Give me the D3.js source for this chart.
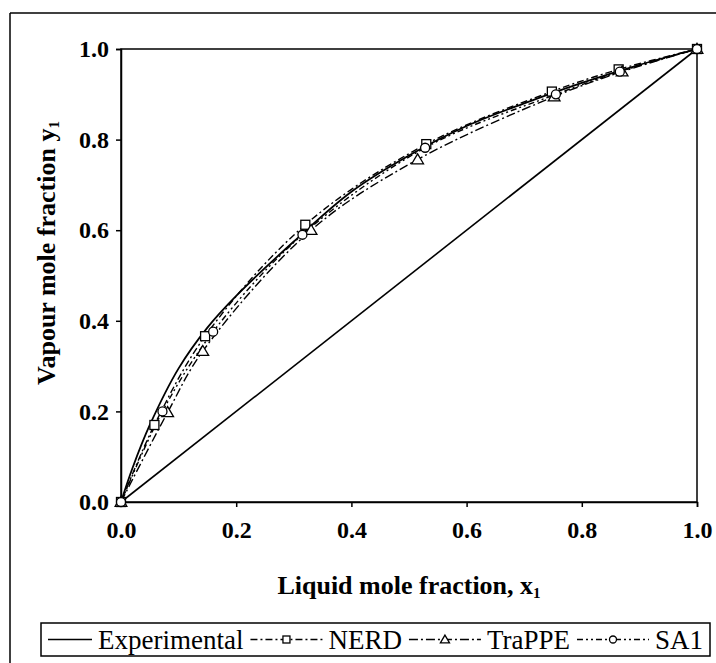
<!DOCTYPE html>
<html>
<head>
<meta charset="utf-8">
<script src="https://cdn.jsdelivr.net/npm/d3@7"></script>
<style>
  html, body { margin: 0; padding: 0; background: #fff; }
  svg { display: block; }
  text { font-family: "Liberation Serif", "Times New Roman", serif; fill: #000; }
</style>
</head>
<body>
<svg id="chart" width="716" height="663"></svg>
<script>
// Vapour-liquid equilibrium: liquid mole fraction x1 vs vapour mole fraction y1
const tickValues = [0.0, 0.2, 0.4, 0.6, 0.8, 1.0];

// Experimental curve
const expX = [0.0, 0.02, 0.05, 0.1, 0.15, 0.2, 0.3, 0.4, 0.5, 0.6, 0.7, 0.8, 0.9, 1.0];
const expY = [0.0, 0.075, 0.17, 0.295, 0.385, 0.455, 0.575, 0.685, 0.765, 0.83, 0.88, 0.925, 0.965, 1.0];

// Simulation results
const nerdX = [0.0, 0.058, 0.146, 0.32, 0.53, 0.748, 0.864, 1.0];
const nerdY = [0.0, 0.17, 0.366, 0.612, 0.79, 0.906, 0.955, 1.0];

const trappeX = [0.0, 0.081, 0.142, 0.33, 0.515, 0.752, 0.87, 1.0];
const trappeY = [0.0, 0.198, 0.333, 0.60, 0.756, 0.895, 0.95, 1.0];

const sa1X = [0.0, 0.072, 0.16, 0.315, 0.528, 0.755, 0.866, 1.0];
const sa1Y = [0.0, 0.2, 0.376, 0.59, 0.782, 0.90, 0.95, 1.0];

// x = y reference
const diagX = [0.0, 1.0];
const diagY = [0.0, 1.0];

const svg = d3.select("#chart");
const W = 716, H = 663;
const plot = { left: 121, right: 697, top: 49, bottom: 502 };

const x = d3.scaleLinear().domain([0, 1]).range([plot.left, plot.right]);
const y = d3.scaleLinear().domain([0, 1]).range([plot.bottom, plot.top]);

// outer frame (left and top edges)
svg.append("line").attr("x1", 10).attr("x2", 10).attr("y1", 13).attr("y2", H)
  .attr("stroke", "#000").attr("stroke-width", 1.5);
svg.append("line").attr("x1", 10).attr("x2", W).attr("y1", 13).attr("y2", 13)
  .attr("stroke", "#000").attr("stroke-width", 1.5);

// plot area border
svg.append("rect")
  .attr("x", plot.left).attr("y", plot.top)
  .attr("width", plot.right - plot.left).attr("height", plot.bottom - plot.top)
  .attr("fill", "none").attr("stroke", "#000").attr("stroke-width", 1.5);

// axes
const xAxis = svg.append("g")
  .attr("transform", `translate(0,${plot.bottom})`)
  .call(d3.axisBottom(x).tickValues(tickValues).tickFormat(d3.format(".1f")).tickSize(5).tickPadding(14));
const yAxis = svg.append("g")
  .attr("transform", `translate(${plot.left},0)`)
  .call(d3.axisLeft(y).tickValues(tickValues).tickFormat(d3.format(".1f")).tickSize(5).tickPadding(7));

[xAxis, yAxis].forEach(g => {
  g.select(".domain").attr("stroke", "#000").attr("stroke-width", 1.5);
  g.selectAll(".tick line").attr("stroke", "#000").attr("stroke-width", 1.5);
  g.selectAll(".tick text")
    .attr("font-family", "Liberation Serif, Times New Roman, serif")
    .attr("font-size", 24).attr("font-weight", "bold").attr("fill", "#000");
});

// axis titles
const xt = svg.append("text")
  .attr("x", (plot.left + plot.right) / 2).attr("y", 594)
  .attr("text-anchor", "middle").attr("font-size", 26).attr("font-weight", "bold");
xt.append("tspan").text("Liquid mole fraction, x");
xt.append("tspan").attr("font-size", 15).attr("dy", 4).text("1");

const yt = svg.append("text")
  .attr("transform", `translate(55,253) rotate(-90)`)
  .attr("text-anchor", "middle").attr("font-size", 26).attr("font-weight", "bold");
yt.append("tspan").text("Vapour mole fraction y");
yt.append("tspan").attr("font-size", 15).attr("dy", 4).text("1");

const curve = d3.curveCatmullRom.alpha(0.5);
const zip = (xs, ys) => xs.map((v, i) => [v, ys[i]]);
const lineGen = d3.line().x(d => x(d[0])).y(d => y(d[1])).curve(curve);

// x = y line
svg.append("path").datum(zip(diagX, diagY))
  .attr("d", d3.line().x(d => x(d[0])).y(d => y(d[1])))
  .attr("fill", "none").attr("stroke", "#000").attr("stroke-width", 1.6);

const series = [
  { name: "NERD", xs: nerdX, ys: nerdY, dash: "7,3,2,3", marker: "square" },
  { name: "TraPPE", xs: trappeX, ys: trappeY, dash: "9,3,2,3", marker: "triangle" },
  { name: "SA1", xs: sa1X, ys: sa1Y, dash: "6,3,2,3,2,3", marker: "circle" }
];

function drawMarker(g, type, cx, cy, s) {
  if (type === "square") {
    g.append("rect").attr("x", cx - s / 2).attr("y", cy - s / 2).attr("width", s).attr("height", s)
      .attr("fill", "#fff").attr("stroke", "#000").attr("stroke-width", 1.3);
  } else if (type === "triangle") {
    const h = s * 1.05;
    g.append("path")
      .attr("d", `M${cx},${cy - h * 0.6}L${cx + s * 0.65},${cy + h * 0.45}L${cx - s * 0.65},${cy + h * 0.45}Z`)
      .attr("fill", "#fff").attr("stroke", "#000").attr("stroke-width", 1.3);
  } else {
    g.append("circle").attr("cx", cx).attr("cy", cy).attr("r", s / 2)
      .attr("fill", "#fff").attr("stroke", "#000").attr("stroke-width", 1.3);
  }
}

// model lines
series.forEach(s => {
  svg.append("path").datum(zip(s.xs, s.ys))
    .attr("d", lineGen)
    .attr("fill", "none").attr("stroke", "#000").attr("stroke-width", 1.4)
    .attr("stroke-dasharray", s.dash);
});

// experimental curve
svg.append("path").datum(zip(expX, expY))
  .attr("d", lineGen)
  .attr("fill", "none").attr("stroke", "#000").attr("stroke-width", 1.8);

// markers
series.forEach(s => {
  const g = svg.append("g");
  zip(s.xs, s.ys).forEach(p => drawMarker(g, s.marker, x(p[0]), y(p[1]), 9));
});

// legend
const lg = svg.append("g");
const box = { x: 41, y: 623, w: 669, h: 33 };
lg.append("rect").attr("x", box.x).attr("y", box.y).attr("width", box.w).attr("height", box.h)
  .attr("fill", "#fff").attr("stroke", "#000").attr("stroke-width", 1.5);

const legendItems = [
  { name: "Experimental", dash: null, marker: null },
  { name: "NERD", dash: series[0].dash, marker: "square" },
  { name: "TraPPE", dash: series[1].dash, marker: "triangle" },
  { name: "SA1", dash: series[2].dash, marker: "circle" }
];
const ly = box.y + box.h / 2;
const startX = 48, endX = 703, solidW = 44, gapIn = 6, gapOut = 7;
// measure the labels, then share the remaining width among the dashed samples
const labels = legendItems.map(it => lg.append("text").attr("font-size", 27).attr("y", ly + 9).text(it.name));
const widths = labels.map(t => t.node().getComputedTextLength());
const textTotal = d3.sum(widths);
const sampleW = (endX - startX - solidW - textTotal - 4 * gapIn - 3 * gapOut) / 3;
let cursor = startX;
legendItems.forEach((it, i) => {
  const x0 = cursor, x1 = cursor + (i === 0 ? solidW : sampleW);
  lg.append("line").attr("x1", x0).attr("x2", x1).attr("y1", ly).attr("y2", ly)
    .attr("stroke", "#000").attr("stroke-width", it.dash ? 1.4 : 1.6)
    .attr("stroke-dasharray", it.dash);
  if (it.marker) drawMarker(lg, it.marker, (x0 + x1) / 2, ly, 7);
  labels[i].attr("x", x1 + gapIn);
  cursor = x1 + gapIn + widths[i] + gapOut;
});
</script>
</body>
</html>
